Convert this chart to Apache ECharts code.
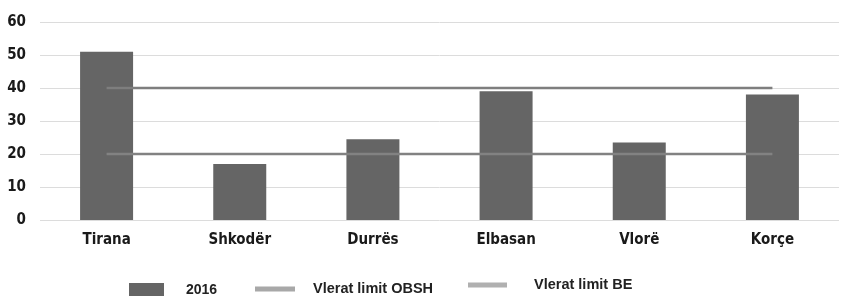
<!DOCTYPE html>
<html>
<head>
<meta charset="utf-8">
<script src="https://cdn.jsdelivr.net/npm/echarts@6/dist/echarts.min.js"></script>
<style>html,body{margin:0;padding:0;background:#fff}#c{width:855px;height:296px}</style>
</head>
<body>
<div id="c"></div>
<script>
const categories = ['Tirana', 'Shkodër', 'Durrës', 'Elbasan', 'Vlorë', 'Korçe'];
const values2016 = [51, 17, 24.5, 39, 23.5, 38];
const limitOBSH = [40, 40, 40, 40, 40, 40];
const limitBE = [20, 20, 20, 20, 20, 20];
const yTicks = [0, 10, 20, 30, 40, 50, 60];

const chart = echarts.init(document.getElementById('c'));
const lblFont = '"DejaVu Sans Condensed"';
const legFont = 'Liberation Sans, Arial, sans-serif';
chart.setOption({
  animation: false,
  grid: { left: 40, right: 16, top: 22, bottom: 76 },
  xAxis: {
    type: 'category',
    data: categories,
    axisLine: { show: false },
    axisTick: { show: false },
    axisLabel: { margin: 13, fontSize: 15, fontWeight: 'bold', fontFamily: lblFont, color: '#1a1a1a' }
  },
  yAxis: {
    type: 'value',
    min: yTicks[0],
    max: yTicks[yTicks.length - 1],
    interval: 10,
    axisLabel: { margin: 14, fontSize: 15, fontWeight: 'bold', fontFamily: lblFont, color: '#1a1a1a' },
    splitLine: { lineStyle: { color: '#dcdcdc', width: 1 } }
  },
  legend: [
    { data: ['2016'], left: 129, top: 283, padding: 0, itemWidth: 35, itemHeight: 15, icon: 'rect',
      textStyle: { fontSize: 14, fontWeight: 'bold', color: '#222', fontFamily: legFont, padding: [0, 0, 0, 17] } },
    { data: ['Vlerat limit OBSH'], left: 255, top: 281.5, padding: 0, itemWidth: 40, itemHeight: 5, icon: 'rect',
      textStyle: { fontSize: 14.5, fontWeight: 'bold', color: '#222', fontFamily: legFont, padding: [0, 0, 0, 13] } },
    { data: ['Vlerat limit BE'], left: 468, top: 277.5, padding: 0, itemWidth: 39, itemHeight: 5, icon: 'rect',
      textStyle: { fontSize: 14.5, fontWeight: 'bold', color: '#222', fontFamily: legFont, padding: [0, 0, 0, 22] } }
  ],
  series: [
    { name: '2016', type: 'bar', data: values2016, barWidth: 53, itemStyle: { color: '#656565' } },
    { name: 'Vlerat limit OBSH', type: 'line', data: limitOBSH, symbol: 'none', lineStyle: { color: '#7e7e7e', width: 2.5 }, itemStyle: { color: '#a8a8a8' } },
    { name: 'Vlerat limit BE', type: 'line', data: limitBE, symbol: 'none', lineStyle: { color: '#828282', width: 2.5 }, itemStyle: { color: '#b0b0b0' } }
  ]
});
</script>
</body>
</html>
